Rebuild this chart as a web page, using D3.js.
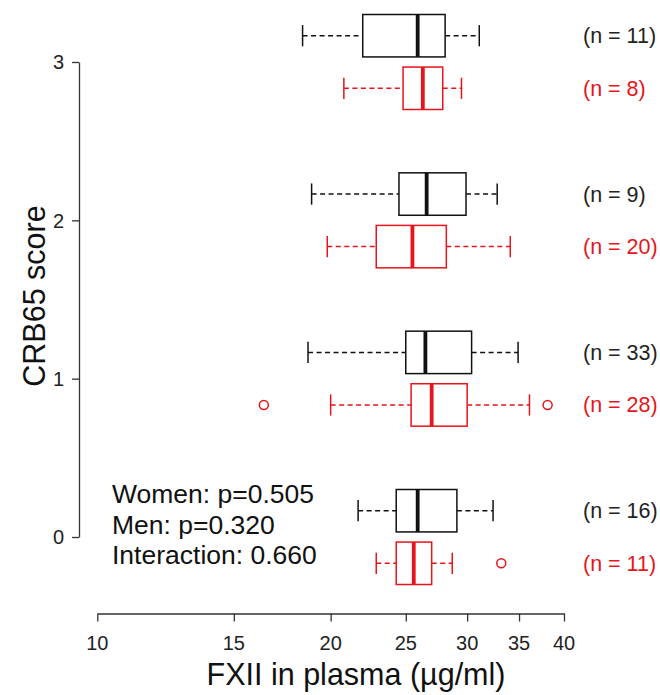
<!DOCTYPE html>
<html>
<head>
<meta charset="utf-8">
<script src="https://cdn.jsdelivr.net/npm/d3@7/dist/d3.min.js"></script>
<style>
  html, body { margin: 0; padding: 0; background: #fff; }
  svg { display: block; font-family: "Liberation Sans", Arial, sans-serif; }
</style>
</head>
<body>
<svg id="chart" width="660" height="695"></svg>
<script>
// CRB65 score categories (y axis)
const scores = [0, 1, 2, 3];

// Five-number summaries per score: [lower whisker, Q1, median, Q3, upper whisker]
const blackStats = [
  [21.7, 24.3, 25.9, 29.1, 32.4],
  [18.7, 25.0, 26.5, 30.4, 34.9],
  [18.9, 24.5, 26.6, 29.9, 32.8],
  [18.4, 22.0, 25.9, 28.1, 31.1]
];
const redStats = [
  [22.9, 24.3, 25.6, 27.0, 28.7],
  [20.0, 25.4, 27.0, 30.0, 36.1],
  [19.8, 22.9, 25.5, 28.2, 34.1],
  [20.8, 24.8, 26.3, 27.9, 29.5]
];
const blackOutliers = [[], [], [], []];
const redOutliers = [[33.2], [16.4, 38.1], [], []];

// Group sizes
const blackN = [16, 33, 9, 11];
const redN = [11, 28, 20, 8];

// Axis ticks and annotation
const xTicks = [10, 15, 20, 25, 30, 35, 40];
const yTicks = [0, 1, 2, 3];
const statsText = ["Women: p=0.505", "Men: p=0.320", "Interaction: 0.660"];

const BLACK = "#111";
const RED = "#e8141b";

const svg = d3.select("#chart");

const x = d3.scaleLog().domain([10, 40]).range([97.3, 564]);
const y = d3.scaleLinear().domain([0, 3]).range([537, 62]);

const OFFSET = 0.166;   // vertical shift of each series from the score line
const HALF = 0.134;     // half box height in score units

// X axis (line and ticks from d3.axis, labels drawn separately)
const xAxis = svg.append("g")
  .attr("transform", "translate(0,613.5)")
  .call(d3.axisBottom(x).tickValues(xTicks).tickFormat(() => "")
    .tickSize(8).tickSizeOuter(0));
xAxis.select(".domain").attr("stroke", "#333").attr("stroke-width", 1.3);
xAxis.selectAll(".tick line").attr("stroke", "#333").attr("stroke-width", 1.3);

svg.append("g").selectAll("text").data(xTicks).join("text")
  .attr("x", d => x(d)).attr("y", 650)
  .attr("text-anchor", "middle")
  .attr("font-size", 20).attr("fill", "#222")
  .text(d => d);

// Y axis
const yAxis = svg.append("g")
  .attr("transform", "translate(79,0)")
  .call(d3.axisLeft(y).tickValues(yTicks).tickFormat(() => "")
    .tickSize(7).tickSizeOuter(0));
yAxis.select(".domain").attr("stroke", "#333").attr("stroke-width", 1.3);
yAxis.selectAll(".tick line").attr("stroke", "#333").attr("stroke-width", 1.3);

svg.append("g").selectAll("text").data(yTicks).join("text")
  .attr("x", 64).attr("y", d => y(d)).attr("dy", "0.36em")
  .attr("text-anchor", "end")
  .attr("font-size", 20).attr("fill", "#222")
  .text(d => d);

// Axis titles
svg.append("text")
  .attr("x", 356).attr("y", 685)
  .attr("text-anchor", "middle")
  .attr("font-size", 30.5).attr("fill", "#111")
  .text("FXII in plasma (µg/ml)");

svg.append("text")
  .attr("transform", "translate(45,296) rotate(-90)")
  .attr("text-anchor", "middle")
  .attr("font-size", 30.5).attr("fill", "#111")
  .text("CRB65 score");

// Draw one series of horizontal boxplots
function drawSeries(stats, outliers, counts, color, shift) {
  const g = svg.append("g");
  stats.forEach((s, i) => {
    const c = scores[i] + shift;
    const yc = y(c), yt = y(c + HALF), yb = y(c - HALF);
    const capT = y(c + HALF / 2), capB = y(c - HALF / 2);
    const [lo, q1, med, q3, hi] = s;
    const dash = "5,3.5";
    // whiskers
    g.append("line").attr("x1", x(lo)).attr("x2", x(q1)).attr("y1", yc).attr("y2", yc)
      .attr("stroke", color).attr("stroke-width", 1.5).attr("stroke-dasharray", dash);
    g.append("line").attr("x1", x(q3)).attr("x2", x(hi)).attr("y1", yc).attr("y2", yc)
      .attr("stroke", color).attr("stroke-width", 1.5).attr("stroke-dasharray", dash);
    // staples
    [lo, hi].forEach(v => {
      g.append("line").attr("x1", x(v)).attr("x2", x(v)).attr("y1", capT).attr("y2", capB)
        .attr("stroke", color).attr("stroke-width", 1.5);
    });
    // box
    g.append("rect").attr("x", x(q1)).attr("y", yt)
      .attr("width", x(q3) - x(q1)).attr("height", yb - yt)
      .attr("fill", "#fff").attr("stroke", color).attr("stroke-width", 1.5);
    // median
    g.append("line").attr("x1", x(med)).attr("x2", x(med)).attr("y1", yt).attr("y2", yb)
      .attr("stroke", color).attr("stroke-width", 3.8);
    // outliers
    outliers[i].forEach(v => {
      g.append("circle").attr("cx", x(v)).attr("cy", yc).attr("r", 4.5)
        .attr("fill", "none").attr("stroke", color).attr("stroke-width", 1.5);
    });
    // group size
    g.append("text").attr("x", 583).attr("y", yc).attr("dy", "0.35em")
      .attr("font-size", 21.5).attr("fill", color === BLACK ? "#222" : color)
      .text(`(n = ${counts[i]})`);
  });
}

drawSeries(blackStats, blackOutliers, blackN, BLACK, OFFSET);
drawSeries(redStats, redOutliers, redN, RED, -OFFSET);

// Test statistics
svg.append("g").selectAll("text").data(statsText).join("text")
  .attr("x", 112).attr("y", (d, i) => 503 + i * 30.5)
  .attr("font-size", 26.5).attr("fill", "#111")
  .text(d => d);
</script>
</body>
</html>
